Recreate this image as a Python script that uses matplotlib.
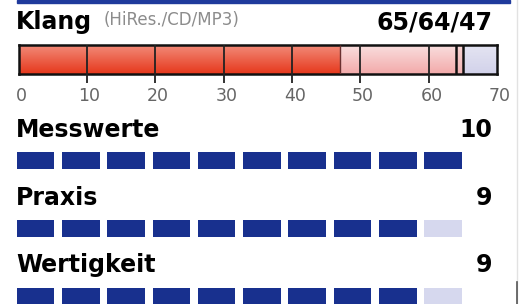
import numpy as np
import matplotlib.pyplot as plt
from matplotlib.patches import Rectangle

plt.rcParams['font.family'] = ['DejaVu Sans']

# Daten
klang_label = 'Klang'
klang_sub = '(HiRes./CD/MP3)'
klang_werte = [65, 64, 47]          # HiRes, CD, MP3
klang_max = 70
klang_ticks = [0, 10, 20, 30, 40, 50, 60, 70]

kategorien = ['Messwerte', 'Praxis', 'Wertigkeit']
punkte = [10, 9, 9]
punkte_max = 10

W, H = 528, 304
fig = plt.figure(figsize=(W / 100, H / 100), dpi=100)
fig.patch.set_facecolor('white')

def fx(px):
    return px / W

def fy(py):
    return 1 - py / H

# blauer Streifen oben
fig.patches.append(Rectangle((fx(17), fy(3)), fx(510) - fx(17), 3 / H,
                             transform=fig.transFigure, color='#1f3a9c', zorder=5))
# graue Linie rechts
fig.add_artist(plt.Line2D([fx(517), fx(517)], [0, 1], color='#e2e2e2', lw=1,
                          transform=fig.transFigure))
fig.add_artist(plt.Line2D([fx(517), fx(517)], [0, fy(282)], color='#555555', lw=1.2,
                          transform=fig.transFigure))

# Titelzeile Klang
fig.text(fx(16), fy(29), klang_label, fontsize=17, fontweight='bold', va='baseline', ha='left')
fig.text(fx(104), fy(25), klang_sub, fontsize=12, color='#8c8c8c', va='baseline', ha='left')
fig.text(fx(492), fy(29), '/'.join(str(v) for v in klang_werte), fontsize=17,
         fontweight='bold', va='baseline', ha='right')

# Klang-Balken
x0, x1 = 18.5, 497
ax = fig.add_axes([fx(x0), fy(74), (x1 - x0) / W, 29 / H])
ax.set_xlim(0, klang_max)
ax.set_ylim(0, 1)

def verlauf(a, b, top, bottom):
    c1 = np.array(plt.matplotlib.colors.to_rgb(top))
    c2 = np.array(plt.matplotlib.colors.to_rgb(bottom))
    t = np.linspace(0, 1, 50)[:, None]
    img = (c1 * (1 - t) + c2 * t)[:, None, :]
    ax.imshow(img, extent=(a, b, 0, 1), aspect='auto', origin='upper', zorder=1)

hires, cd, mp3 = klang_werte
verlauf(0, mp3, '#f28a78', '#e6381c')
verlauf(mp3, cd, '#f9dede', '#f3aaaa')
verlauf(cd, hires, '#f7d4d4', '#f2b4b4')
verlauf(hires, klang_max, '#e4e4f2', '#d2d2ea')

ax.vlines([mp3], 0, 1, color='#6a3030', lw=1, zorder=3)
ax.vlines([cd, hires], 0, 1, color='#111111', lw=1.8, zorder=3)
ax.vlines(klang_ticks[1:-1], -0.3, 1, color='#222222', lw=1.3, zorder=3, clip_on=False)
for s in ax.spines.values():
    s.set_linewidth(1.8)
    s.set_color('#111111')
ax.set_xticks([])
ax.set_yticks([])
for t in klang_ticks:
    ax.text(t + 0.4, -0.76, str(t), ha='center', va='center', fontsize=12.5, color='#666666')

# Punktzeilen
text_baseline = [137, 205, 272]
block_top = [152, 220, 288]
for name, p, tb, bt in zip(kategorien, punkte, text_baseline, block_top):
    fig.text(fx(16), fy(tb), name, fontsize=17, fontweight='bold', va='baseline', ha='left')
    fig.text(fx(492), fy(tb), str(p), fontsize=17, fontweight='bold', va='baseline', ha='right')
    bax = fig.add_axes([fx(16.7), fy(bt + 17), 445.2 / W, 17 / H])
    bax.set_xlim(-0.414, 9.414)
    bax.set_ylim(0, 1)
    idx = np.arange(punkte_max)
    farben = ['#18308e' if i < p else '#d6d8ee' for i in idx]
    bax.bar(idx, 1, width=0.828, bottom=0, color=farben)
    bax.axis('off')

fig.savefig('out.png', dpi=100, facecolor='white')
